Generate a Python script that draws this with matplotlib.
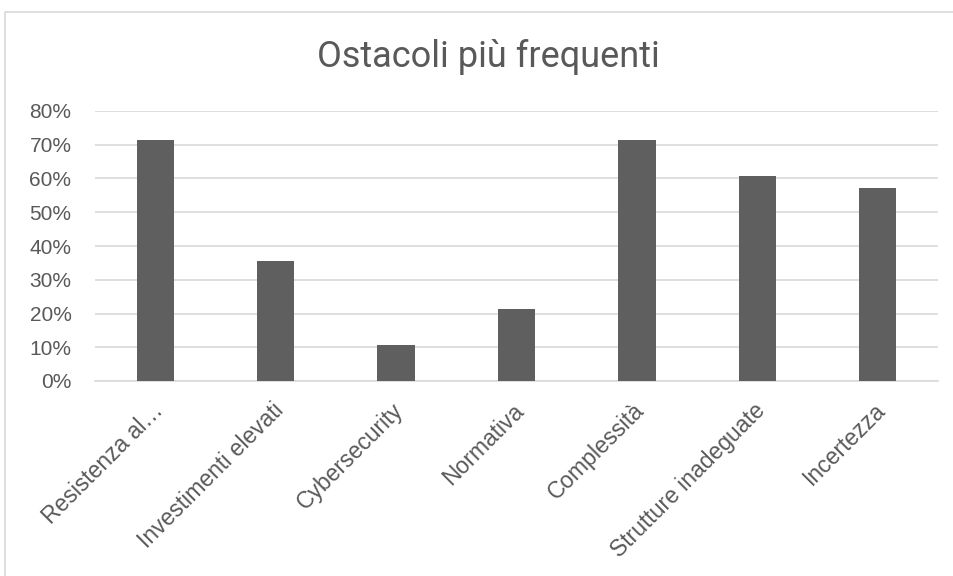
import matplotlib
matplotlib.use("Agg")
import matplotlib.pyplot as plt
from matplotlib.patches import Rectangle
from matplotlib.ticker import PercentFormatter, MultipleLocator
from matplotlib.transforms import ScaledTranslation

categories = ["Resistenza al…", "Investimenti elevati", "Cybersecurity", "Normativa",
              "Complessità", "Strutture inadeguate", "Incertezza"]
values = [0.714, 0.357, 0.107, 0.214, 0.714, 0.607, 0.571]
title = "Ostacoli più frequenti"

text_color = "#595959"
bar_color = "#5f5f5f"
grid_color = "#d9d9d9"
fonts = ["Liberation Sans", "DejaVu Sans"]

W, H = 954, 576
fig = plt.figure(figsize=(W / 100, H / 100), dpi=100)
fig.patch.set_facecolor("white")

# chart frame (left and top edges visible)
fig.add_artist(Rectangle((5 / W, -0.1), 1.2, (H - 12) / H + 0.1, transform=fig.transFigure,
                         fill=False, edgecolor="#d9d9d9", linewidth=1.2))

ax = fig.add_axes([95 / W, 1 - 381 / H, (938 - 95) / W, (381 - 111) / H])
x = range(len(categories))
ax.bar(x, values, width=0.31, color=bar_color, zorder=3)

ax.set_ylim(0, 0.8)
ax.set_xlim(-0.5, len(categories) - 0.5)
ax.yaxis.set_major_locator(MultipleLocator(0.1))
ax.yaxis.set_major_formatter(PercentFormatter(1.0, decimals=0))
ax.grid(axis="y", color=grid_color, linewidth=1.2, zorder=0)
for s in ["top", "right", "left"]:
    ax.spines[s].set_visible(False)
ax.spines["bottom"].set_color(grid_color)
ax.spines["bottom"].set_linewidth(1.2)
ax.tick_params(axis="y", length=0, labelsize=15, labelcolor=text_color, pad=17)
ax.tick_params(axis="x", length=0, pad=13)
ax.set_xticks(list(x))
ax.set_xticklabels(categories, rotation=45, ha="right", rotation_mode="anchor",
                   fontsize=16.5, color=text_color)
shift = ScaledTranslation(-4 / 100, 0, fig.dpi_scale_trans)
for lbl in ax.get_xticklabels():
    lbl.set_transform(lbl.get_transform() + shift)
for lbl in ax.get_yticklabels() + ax.get_xticklabels():
    lbl.set_fontfamily(fonts)

fig.text(488 / W, 1 - 67 / H, title, ha="center", va="baseline", fontsize=26,
         color=text_color, family=["Roboto", "DejaVu Sans"])

fig.savefig("out.png", dpi=100, facecolor="white")
